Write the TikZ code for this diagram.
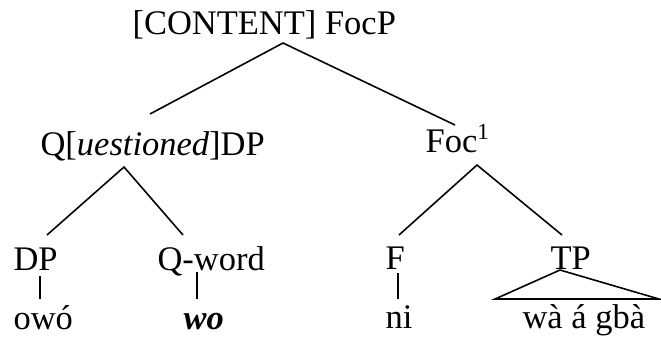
\documentclass[tikz,border=0pt]{standalone}
\usepackage{fontspec}
\setmainfont{Liberation Serif}
\usepackage{tikz}
\usetikzlibrary{calc}

\tikzset{
    lbl/.style={anchor=base west, inner sep=0pt, font=\fontsize{12}{14}\selectfont},
    branch/.style={black, line width=0.55pt}
}

\begin{document}
\begin{tikzpicture}[x=0.348pt, y=-0.348pt]
        \useasboundingbox (0,0) rectangle (661,338);

        %LABEL
        \node[lbl] (focp) at (132,34) {[CONTENT] FocP};
        \node[lbl] (qdp) at (40,155) {Q[\textit{uestioned}]DP};
        \node[lbl] (foc) at (425,152) {Foc\textsuperscript{1}};
        \node[lbl] (dp) at (13,270) {DP};
        \node[lbl] (qword) at (157,270) {Q-word};
        \node[lbl] (f) at (385,269) {F};
        \node[lbl] (tp) at (550,269) {TP};
        \node[lbl] (owo) at (13,329) {ow\'o};
        \node[lbl] (wo) at (183,329) {\textbf{\textit{wo}}};
        \node[lbl] (ni) at (385,328) {ni};
        \node[lbl] (wagba) at (522,328) {w\`a \'a gb\`a};

        %TITIK CABANG
        \coordinate (focp-b) at (283,43);
        \coordinate (qdp-t) at (150,114);
        \coordinate (foc-t) at (455,125);
        \coordinate (qdp-b) at (124,167);
        \coordinate (dp-t) at (47,235);
        \coordinate (qword-t) at (183,235);
        \coordinate (foc-b) at (477,165);
        \coordinate (f-t) at (399,235);
        \coordinate (tp-t) at (562,235);
        \coordinate (dp-b) at (40,276);
        \coordinate (owo-t) at (40,299);
        \coordinate (qword-b) at (197,272);
        \coordinate (wo-t) at (197,299);
        \coordinate (f-b) at (398,273);
        \coordinate (ni-t) at (398,299);
        \coordinate (tp-b) at (560,270);
        \coordinate (tri-l) at (495,299);
        \coordinate (tri-r) at (659,299);

        %GARIS
        \draw[branch] (qdp-t) -- (focp-b) -- (foc-t);
        \draw[branch] (dp-t) -- (qdp-b) -- (qword-t);
        \draw[branch] (f-t) -- (foc-b) -- (tp-t);
        \draw[branch] (dp-b) -- (owo-t);
        \draw[branch] (qword-b) -- (wo-t);
        \draw[branch] (f-b) -- (ni-t);
        \draw[branch] (tp-b) -- (tri-l) -- (tri-r) -- cycle;
    \end{tikzpicture}
\end{document}
